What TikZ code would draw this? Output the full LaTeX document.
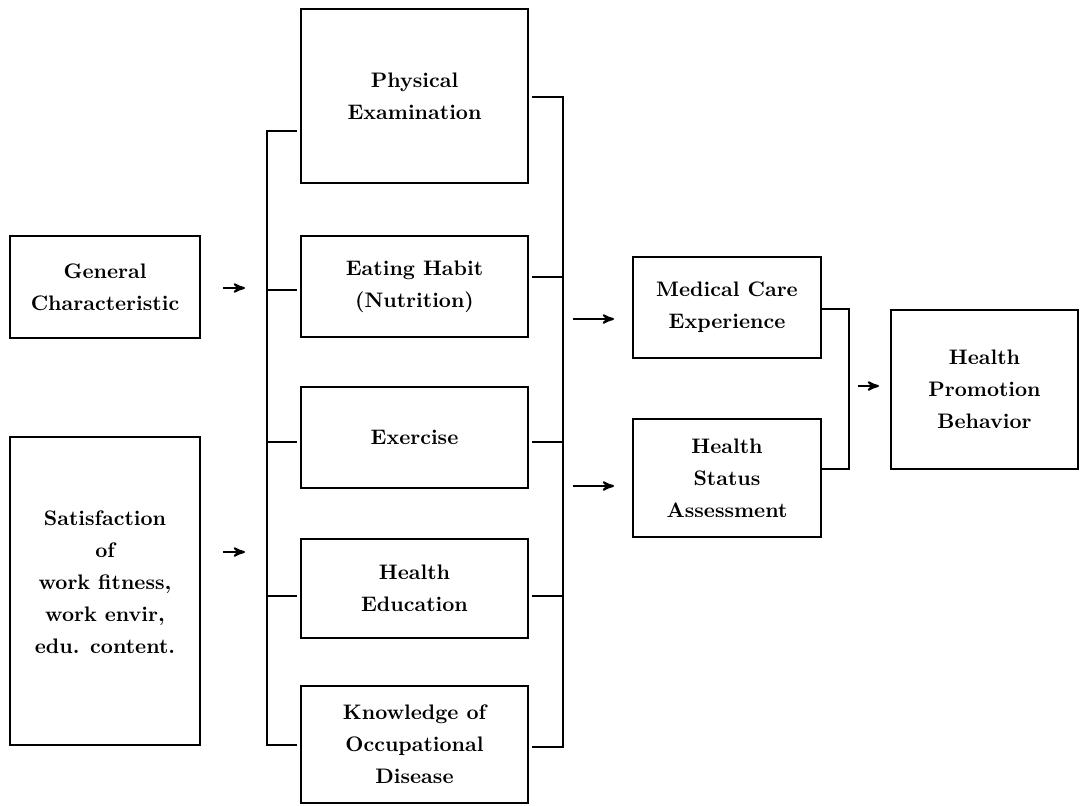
\documentclass[tikz,border=0pt]{standalone}
\usepackage{fontspec}
\usepackage{tikz}
\usetikzlibrary{arrows,positioning}
\tikzset{>=stealth',
         box/.style={draw, line width=1pt, inner sep=0pt, outer sep=0pt, align=center,
                     font=\fontsize{10.5}{16}\selectfont\bfseries},
         mid/.style={box, minimum width=113.5pt},
         stub/.style={line width=1pt, shorten >=2pt},
         bar/.style={line width=1pt, line cap=rect}}

\begin{document}
\begin{tikzpicture}[x=0.5pt, y=-0.5pt, line width=1pt]
	\useasboundingbox (0,0) rectangle (1081,805);

	\node (gen) [box, minimum width=95pt, minimum height=51pt] at (105,287) {General\\Characteristic};
	\node (sat) [box, minimum width=95pt, minimum height=154pt, text depth=9pt] at (105,591) {Satisfaction\\of\\work fitness,\\work envir,\\edu. content.};

	\node (phys) [mid, minimum height=87pt] at (414.5,96) {Physical\\Examination};
	\node (eat) [mid, minimum height=50.5pt] at (414.5,286.5) {Eating Habit\\(Nutrition)};
	\node (exer) [mid, minimum height=50.5pt] at (414.5,437.5) {Exercise};
	\node (hedu) [mid, minimum height=49.5pt] at (414.5,588.5) {Health\\Education};
	\node (know) [mid, minimum height=58.5pt] at (414.5,744.5) {Knowledge of\\Occupational\\Disease};

	\node (med) [box, minimum width=94pt, minimum height=50.5pt] at (727,307.5) {Medical Care\\Experience};
	\node (hsa) [box, minimum width=94pt, minimum height=59pt] at (727,478) {Health\\Status\\Assessment};
	\node (hpb) [box, minimum width=93.5pt, minimum height=79.5pt] at (984.5,389.5) {Health\\Promotion\\Behavior};

	\foreach \n/\y in {phys/131, eat/290, exer/442, hedu/596, know/745} {
		\coordinate (lb-\n) at (267,\y);
		\draw[stub] (lb-\n) -- (lb-\n -| \n.west);
	}
	\draw[bar] (lb-phys) -- (lb-know);

	\foreach \n/\y in {phys/97, eat/277, exer/442, hedu/596, know/747} {
		\coordinate (rb-\n) at (563,\y);
		\draw[stub] (rb-\n) -- (rb-\n -| \n.east);
	}
	\draw[bar] (rb-phys) -- (rb-know);

	\coordinate (ga) at (gen.east |- 0,288);
	\coordinate (sa) at (sat.east |- 0,552);
	\draw[->, shorten <=11.5pt, shorten >=11pt] (ga) -- (ga -| lb-phys);
	\draw[->, shorten <=11.5pt, shorten >=11pt] (sa) -- (sa -| lb-phys);

	\coordinate (ma) at (573,319);
	\coordinate (ha) at (573,486);
	\draw[->, shorten >=9.5pt] (ma) -- (ma -| med.west);
	\draw[->, shorten >=9.5pt] (ha) -- (ha -| hsa.west);

	\coordinate (mb) at (849,309);
	\coordinate (hb) at (849,469);
	\draw[bar] (mb -| med.east) -- (mb) -- (hb) -- (hb -| hsa.east);
	\coordinate (pa) at (858,386);
	\draw[->, shorten >=6pt] (pa) -- (pa -| hpb.west);
\end{tikzpicture}
\end{document}
